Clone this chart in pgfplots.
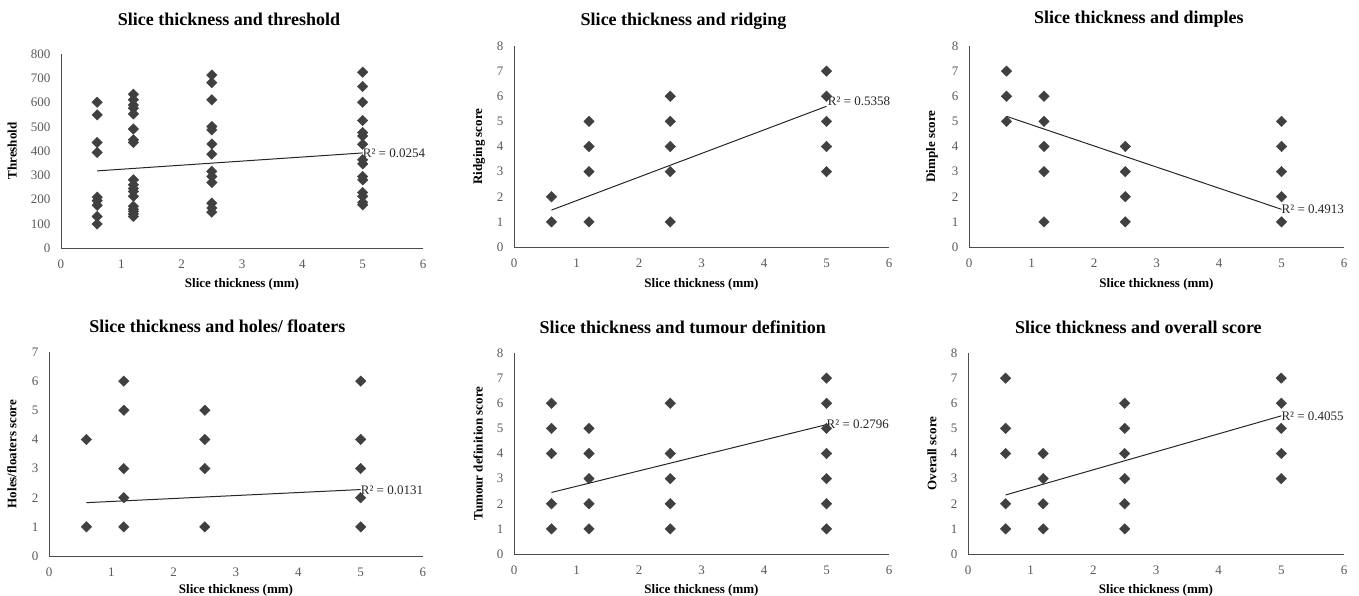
\documentclass[border=0pt]{standalone}
\usepackage{fontspec}
\setmainfont{Liberation Serif}
\usepackage{pgfplots}
\pgfplotsset{compat=1.18}
\definecolor{markc}{HTML}{404040}
\definecolor{tickc}{HTML}{595959}
\pgfplotsset{
  panel/.style={
    scale only axis, axis lines=left, axis line style={-, draw=black!70, line width=0.8pt},
    xmin=0, xmax=6, xtick={0,1,...,6}, ymin=0,
    tick style={draw=none},
    tick label style={font=\fontsize{13}{13}\selectfont, text=tickc},
    xticklabel style={yshift=-6pt},
    yticklabel style={xshift=-5pt},
    /pgf/number format/assume math mode=true,
    xlabel={Slice thickness (mm)},
    xlabel style={font=\bfseries\fontsize{13}{13}\selectfont, anchor=center},
    ylabel style={font=\bfseries\fontsize{13}{13}\selectfont, anchor=center},
    title style={font=\bfseries\fontsize{18}{18}\selectfont, anchor=center},
    clip=false,
  },
  pts/.style={only marks, mark=square*, mark size=3.7pt, mark options={rotate=45, fill=markc, draw=markc}},
  trend/.style={no marks, line width=1pt, black!85},
}
\newcommand{\rlab}[3]{\node[anchor=west, inner sep=0pt, font=\fontsize{13}{13}\selectfont, text=black!85] at (axis cs:#1,#2) {R² = #3};}
\begin{document}
\begin{tikzpicture}
\useasboundingbox (0,0) rectangle (1359pt,596pt);
% Panel 1
\begin{axis}[panel, at={(61pt,348pt)}, anchor=south west, width=362pt, height=194pt,
  ymax=800, ytick={0,100,...,800},
  title={Slice thickness and threshold}, title style={at={(axis description cs:0.464,1)}, yshift=29pt},
  ylabel={Threshold}, ylabel style={at={(axis description cs:-0.135,0.5)}},
  xlabel style={at={(axis description cs:0.5,0)}, yshift=-36pt}]
\addplot[pts] coordinates {
 (0.6,601) (0.6,549) (0.6,435) (0.6,394) (0.6,210) (0.6,195) (0.6,176) (0.6,130) (0.6,99)
 (1.2,634) (1.2,611) (1.2,590) (1.2,576) (1.2,553) (1.2,491) (1.2,446) (1.2,435)
 (1.2,281) (1.2,261) (1.2,245) (1.2,233) (1.2,213) (1.2,172) (1.2,160) (1.2,151) (1.2,140) (1.2,130)
 (2.5,713) (2.5,682) (2.5,611) (2.5,501) (2.5,487) (2.5,429) (2.5,387) (2.5,316) (2.5,295) (2.5,270) (2.5,185) (2.5,165) (2.5,148)
 (5,725) (5,666) (5,601) (5,526) (5,476) (5,462) (5,428) (5,364) (5,347) (5,295) (5,281) (5,229) (5,213) (5,188) (5,178)
};
\addplot[trend] coordinates {(0.6,318) (5,392)};
\rlab{5}{390}{0.0254}
\end{axis}
% Panel 2
\begin{axis}[panel, at={(514pt,349pt)}, anchor=south west, width=375pt, height=201pt,
  ymax=8, ytick={0,1,...,8},
  title={Slice thickness and ridging}, title style={at={(axis description cs:0.452,1)}, yshift=19pt},
  ylabel={Ridging score}, ylabel style={at={(axis description cs:-0.093,0.5)}},
  xlabel style={at={(axis description cs:0.5,0)}, yshift=-37pt}]
\addplot[pts] coordinates {
 (0.6,2) (0.6,1)
 (1.2,5) (1.2,4) (1.2,3) (1.2,1)
 (2.5,6) (2.5,5) (2.5,4) (2.5,3) (2.5,1)
 (5,7) (5,6) (5,5) (5,4) (5,3)
};
\addplot[trend] coordinates {(0.6,1.47) (5,5.6)};
\rlab{5.02}{5.8}{0.5358}
\end{axis}
% Panel 3
\begin{axis}[panel, at={(969pt,349pt)}, anchor=south west, width=375pt, height=201pt,
  ymax=8, ytick={0,1,...,8},
  title={Slice thickness and dimples}, title style={at={(axis description cs:0.453,1)}, yshift=21pt},
  ylabel={Dimple score}, ylabel style={at={(axis description cs:-0.099,0.5)}},
  xlabel style={at={(axis description cs:0.5,0)}, yshift=-37pt}]
\addplot[pts] coordinates {
 (0.6,7) (0.6,6) (0.6,5)
 (1.2,6) (1.2,5) (1.2,4) (1.2,3) (1.2,1)
 (2.5,4) (2.5,3) (2.5,2) (2.5,1)
 (5,5) (5,4) (5,3) (5,2) (5,1)
};
\addplot[trend] coordinates {(0.6,5.2) (5,1.5)};
\rlab{5}{1.5}{0.4913}
\end{axis}
% Panel 4
\begin{axis}[panel, at={(49pt,40pt)}, anchor=south west, width=374pt, height=204pt,
  ymax=7, ytick={0,1,...,7},
  title={Slice thickness and holes/ floaters}, title style={at={(axis description cs:0.45,1)}, yshift=20pt},
  ylabel={Holes/floaters score}, ylabel style={at={(axis description cs:-0.099,0.5)}},
  xlabel style={at={(axis description cs:0.5,0)}, yshift=-34pt}]
\addplot[pts] coordinates {
 (0.6,4) (0.6,1)
 (1.2,6) (1.2,5) (1.2,3) (1.2,2) (1.2,1)
 (2.5,5) (2.5,4) (2.5,3) (2.5,1)
 (5,6) (5,4) (5,3) (5,2) (5,1)
};
\addplot[trend] coordinates {(0.6,1.83) (5,2.28)};
\rlab{5}{2.25}{0.0131}
\end{axis}
% Panel 5
\begin{axis}[panel, at={(514pt,42pt)}, anchor=south west, width=375pt, height=201pt,
  ymax=8, ytick={0,1,...,8},
  title={Slice thickness and tumour definition}, title style={at={(axis description cs:0.45,1)}, yshift=20pt},
  ylabel={Tumour definition score}, ylabel style={at={(axis description cs:-0.096,0.5)}},
  xlabel style={at={(axis description cs:0.5,0)}, yshift=-36pt}]
\addplot[pts] coordinates {
 (0.6,6) (0.6,5) (0.6,4) (0.6,2) (0.6,1)
 (1.2,5) (1.2,4) (1.2,3) (1.2,2) (1.2,1)
 (2.5,6) (2.5,4) (2.5,3) (2.5,2) (2.5,1)
 (5,7) (5,6) (5,5) (5,4) (5,3) (5,2) (5,1)
};
\addplot[trend] coordinates {(0.6,2.45) (5,5.15)};
\rlab{5}{5.17}{0.2796}
\end{axis}
% Panel 6
\begin{axis}[panel, at={(968pt,42pt)}, anchor=south west, width=376pt, height=201pt,
  ymax=8, ytick={0,1,...,8},
  title={Slice thickness and overall score}, title style={at={(axis description cs:0.453,1)}, yshift=20pt},
  ylabel={Overall score}, ylabel style={at={(axis description cs:-0.096,0.5)}},
  xlabel style={at={(axis description cs:0.5,0)}, yshift=-36pt}]
\addplot[pts] coordinates {
 (0.6,7) (0.6,5) (0.6,4) (0.6,2) (0.6,1)
 (1.2,4) (1.2,3) (1.2,2) (1.2,1)
 (2.5,6) (2.5,5) (2.5,4) (2.5,3) (2.5,2) (2.5,1)
 (5,7) (5,6) (5,5) (5,4) (5,3)
};
\addplot[trend] coordinates {(0.6,2.35) (5,5.5)};
\rlab{5}{5.48}{0.4055}
\end{axis}
\end{tikzpicture}
\end{document}
